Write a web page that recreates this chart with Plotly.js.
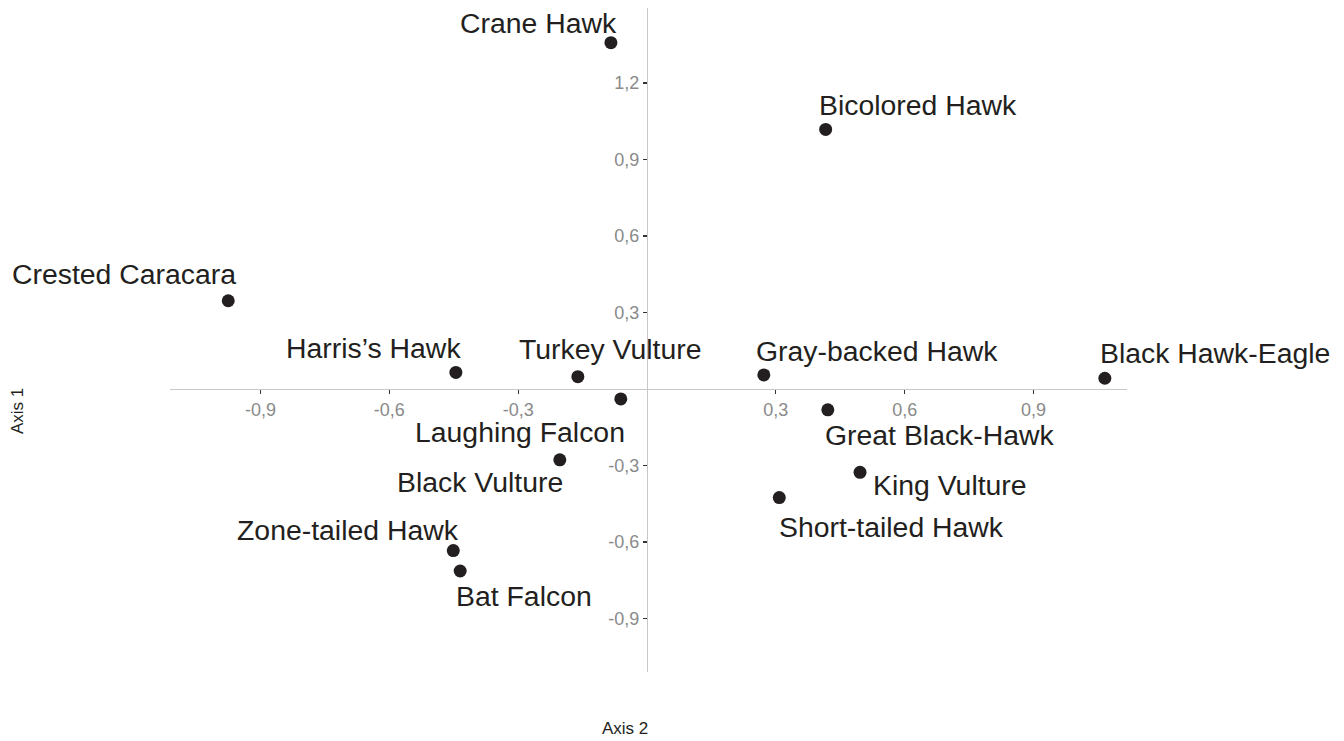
<!DOCTYPE html>
<html>
<head>
<meta charset="utf-8">
<script src="https://cdn.plot.ly/plotly-3.0.1.min.js"></script>
<style>html,body{margin:0;padding:0;background:#fff}#chart{width:1344px;height:741px}</style>
</head>
<body>
<div id="chart"></div>
<script>
// Species names (point labels)
var species = ["Crane Hawk","Bicolored Hawk","Crested Caracara","Harris\u2019s Hawk","Turkey Vulture",
  "Laughing Falcon","Gray-backed Hawk","Black Hawk-Eagle","Great Black-Hawk","Black Vulture",
  "King Vulture","Short-tailed Hawk","Zone-tailed Hawk","Bat Falcon"];
// Horizontal coordinate (labelled "Axis 2")
var axis2 = [-0.084, 0.416, -0.975, -0.445, -0.161, -0.061, 0.272, 1.066, 0.421, -0.203, 0.496, 0.308, -0.451, -0.435];
// Vertical coordinate (labelled "Axis 1")
var axis1 = [1.358, 1.018, 0.346, 0.065, 0.048, -0.039, 0.055, 0.042, -0.082, -0.278, -0.327, -0.426, -0.634, -0.714];
// Tick values and labels
var xTickVals = [-0.9, -0.6, -0.3, 0.3, 0.6, 0.9];
var xTickText = ["-0,9", "-0,6", "-0,3", "0,3", "0,6", "0,9"];
var yTickVals = [-0.9, -0.6, -0.3, 0.3, 0.6, 0.9, 1.2];
var yTickText = ["-0,9", "-0,6", "-0,3", "0,3", "0,6", "0,9", "1,2"];

// Label placement offsets (pixels, styling only)
var labelDx = [-72, 92, -104, -82, 33, -101, 113, 110, 112, -80, 90, 112, -105, 64];
var labelDy = [-20, -24, -27, -24, -28, 33, -24, -25, 25, 22, 13, 29, -21, 25];

var xRange = [-1.1106, 1.1176];
var yRange = [-1.110, 1.494];

var trace = {
  x: axis2, y: axis1, text: species, type: "scatter", mode: "markers",
  marker: {size: 13, color: "#231f20"}, hoverinfo: "text", showlegend: false
};

var ann = species.map(function(s, i){
  return {x: axis2[i], y: axis1[i], xref: "x", yref: "y", text: s, showarrow: true,
    arrowcolor: "rgba(0,0,0,0)", arrowwidth: 0.1, ax: labelDx[i], ay: labelDy[i],
    font: {family: "Liberation Sans, Arial, sans-serif", size: 28.4, color: "#231f20"}};
});
ann.push({xref: "paper", yref: "paper", x: (625 - 170) / (1127 - 170), y: (672 - 728) / (672 - 8),
  text: "Axis 2", showarrow: false, xanchor: "center", yanchor: "middle",
  font: {family: "Liberation Sans, Arial, sans-serif", size: 17, color: "#231f20"}});
ann.push({xref: "paper", yref: "paper", x: (17 - 170) / (1127 - 170), y: (672 - 411) / (672 - 8),
  text: "Axis 1", showarrow: false, textangle: -90, xanchor: "center", yanchor: "middle",
  font: {family: "Liberation Sans, Arial, sans-serif", size: 17, color: "#231f20"}});

var layout = {
  width: 1344, height: 741,
  margin: {l: 170, r: 217, t: 8, b: 69},
  paper_bgcolor: "#fff", plot_bgcolor: "#fff",
  separators: ",.",
  font: {family: "Liberation Sans, Arial, sans-serif"},
  xaxis: {range: xRange, anchor: "free", position: (0 - yRange[0]) / (yRange[1] - yRange[0]),
    showgrid: false, zeroline: false, showline: true, linecolor: "#c8c8c8", linewidth: 1.5,
    ticks: "outside", ticklen: 4, tickcolor: "#333", tickwidth: 1.3,
    tickvals: xTickVals, ticktext: xTickText,
    tickfont: {size: 18, color: "#8a8a8a"}},
  yaxis: {range: yRange, anchor: "free", position: (0 - xRange[0]) / (xRange[1] - xRange[0]),
    showgrid: false, zeroline: false, showline: true, linecolor: "#c8c8c8", linewidth: 1.5,
    ticks: "outside", ticklen: 4, tickcolor: "#333", tickwidth: 1.3,
    tickvals: yTickVals, ticktext: yTickText,
    tickfont: {size: 18, color: "#8a8a8a"}},
  annotations: ann
};

Plotly.newPlot("chart", [trace], layout, {displayModeBar: false, staticPlot: true});
</script>
</body>
</html>
